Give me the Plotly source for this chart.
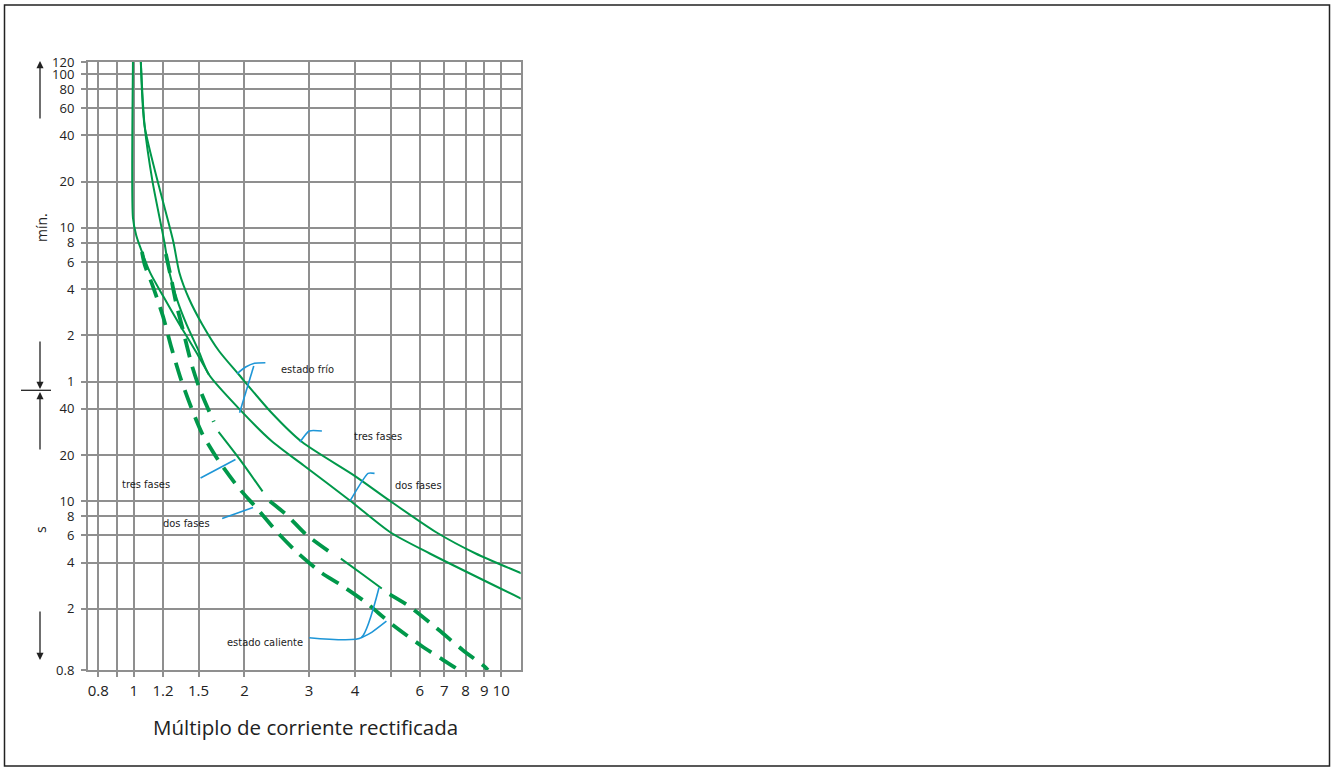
import numpy as np
import plotly.graph_objects as go

# ---------------- data (x = multiple of set current, y = time in seconds) ----------------
x_tick_vals = [0.8, 0.9, 1, 1.2, 1.5, 2, 3, 4, 5, 6, 7, 8, 9, 10]
x_tick_text = ["0.8", "", "1", "1.2", "1.5", "2", "3", "4", "", "6", "7", "8", "9", "10"]
y_tick_vals = [0.8, 2, 4, 6, 8, 10, 20, 40, 60, 120, 240, 360, 480, 600,
               1200, 2400, 3600, 4800, 6000, 7200]
y_tick_text = ["0.8", "2", "4", "6", "8", "10", "20", "40", "1", "2", "4", "6", "8", "10",
               "20", "40", "60", "80", "100", "120"]

# cold state, three phases (outer solid curve)
cold3_x = [1.043, 1.0445, 1.07, 1.28, 1.33, 1.414, 1.534, 1.703, 1.93, 2.37, 2.87, 4.0, 4.97, 6.67, 8.52, 11.5]
cold3_s = [8000, 7200, 2744, 490, 307, 207, 142, 95.4, 66.8, 37.7, 24.3, 14.6, 10.1, 6.27, 4.58, 3.36]
# cold state, two phases (inner solid curve)
cold2_x = [1.043, 1.0445, 1.07, 1.124, 1.21, 1.25, 1.31, 1.39, 1.50, 1.60, 1.97, 2.37, 2.90, 3.88, 5.0, 6.39, 11.5]
cold2_s = [8000, 7200, 2744, 1200, 488, 307, 206, 142, 95.4, 66.8, 38.2, 24.7, 17.1, 10.1, 6.27, 4.58, 2.29]
# thin solid curve starting near 1x
thin_x = [0.994, 0.994, 0.994, 1.015, 1.052, 1.107, 1.20, 1.33, 1.47, 1.60]
thin_s = [8000, 7200, 700, 536, 419, 307, 217, 142, 95.4, 66.8]
# hot state, two phases (dashed, lower)
hot2_x = [1.052, 1.07, 1.126, 1.20, 1.265, 1.344, 1.43, 1.534, 1.70, 1.93, 2.17, 2.46, 2.79,
          3.23, 3.66, 4.24, 5.06, 6.06, 7.50, 7.7]
hot2_s = [419, 346, 251, 160, 100, 61.9, 41.2, 27.6, 18.4, 12.2, 8.92, 6.27, 4.63,
          3.45, 2.86, 2.24, 1.575, 1.15, 0.827, 0.79]
# hot state, three phases (dashed with two thin solid stretches)
hot3a_x = [1.222, 1.265, 1.304, 1.358, 1.44, 1.52, 1.65]
hot3a_s = [406, 277, 193, 132, 75.9, 51.8, 32.9]
hot3b_x = [1.70, 1.94, 2.24]
hot3b_s = [28.3, 18.8, 11.6]
hot3c_x = [2.345, 2.61, 2.94, 3.46]
hot3c_s = [10.0, 8.13, 6.10, 4.58]
hot3d_x = [3.66, 4.18, 4.73]
hot3d_s = [4.24, 3.37, 2.71]
hot3e_x = [4.97, 5.63, 6.78, 7.85, 9.0, 9.2]
hot3e_s = [2.48, 2.07, 1.45, 1.08, 0.844, 0.80]

# leader lines (data units)
lead_cold_arc_x = [1.91, 2.015, 2.13, 2.28]
lead_cold_arc_s = [67.8, 74.7, 79.1, 79.7]
lead_cold_line_x = [2.12, 1.94]
lead_cold_line_s = [75.9, 37.7]
lead_tres_r_x = [2.832, 3.0, 3.25]
lead_tres_r_s = [24.3, 28.7, 28.7]
lead_dos_r_x = [3.88, 4.34, 4.52]
lead_dos_r_s = [10.1, 15.2, 15.2]
lead_tres_l_x = [1.519, 1.89]
lead_tres_l_s = [14.2, 18.7]
lead_dos_l_x = [1.739, 2.11]
lead_dos_l_s = [7.74, 9.12]
lead_hot_h_x = [3.0, 4.16, 4.65]
lead_hot_h_s = [1.298, 1.298, 2.75]
lead_hot_arc_x = [4.16, 4.44, 4.87]
lead_hot_arc_s = [1.298, 1.406, 1.662]

labels = [
    ("estado frío", 2.49, 72.4),
    ("tres fases", 3.92, 26.6),
    ("dos fases", 5.06, 12.76),
    ("tres fases", 0.918, 12.96),
    ("dos fases", 1.188, 7.16),
    ("estado caliente", 1.768, 1.215),
]

# ---------------- styling ----------------
W, H = 1335, 771
GREEN = "#00984a"
BLUE = "#1e96d7"
GRID = "#8f8f8f"
TXT = "#222222"
NARROW = "DejaVu Sans Condensed, Liberation Sans Narrow, sans-serif"
SANS = "Open Sans, Noto Sans, DejaVu Sans, sans-serif"

fig = go.Figure()


def add_line(x, y, width, dash="solid", color=GREEN, smooth=0.7):
    fig.add_trace(go.Scatter(x=x, y=y, mode="lines",
                             line=dict(color=color, width=width, dash=dash, shape="spline", smoothing=smooth),
                             hoverinfo="skip", showlegend=False))


add_line(cold3_x, cold3_s, 2.0)
add_line(cold2_x, cold2_s, 2.0)
add_line(thin_x, thin_s, 2.0)
add_line(hot2_x, hot2_s, 3.8, dash="19px,10px")
add_line(hot3a_x, hot3a_s, 3.8, dash="19px,10px")
add_line(hot3b_x, hot3b_s, 2.0)
add_line(hot3c_x, hot3c_s, 3.8, dash="19px,10px")
add_line(hot3d_x, hot3d_s, 2.0)
add_line(hot3e_x, hot3e_s, 3.8, dash="19px,10px")

for lx, ly in [(lead_cold_arc_x, lead_cold_arc_s), (lead_cold_line_x, lead_cold_line_s),
               (lead_tres_r_x, lead_tres_r_s), (lead_dos_r_x, lead_dos_r_s),
               (lead_tres_l_x, lead_tres_l_s), (lead_dos_l_x, lead_dos_l_s),
               (lead_hot_h_x, lead_hot_h_s), (lead_hot_arc_x, lead_hot_arc_s)]:
    add_line(lx, ly, 1.6, color=BLUE, smooth=0.5)

annotations = []
for text, lx, ly in labels:
    annotations.append(dict(text=text, x=np.log10(lx), y=np.log10(ly), xref="x", yref="y",
                            xanchor="left", yanchor="middle", showarrow=False,
                            font=dict(family=NARROW, size=11, color=TXT)))


def px(xp, yp):
    return xp / W, 1 - yp / H


# axis title and unit labels
tx, ty = px(305, 727)
annotations.append(dict(text="Múltiplo de corriente rectificada", x=tx, y=ty, xref="paper", yref="paper",
                        xanchor="center", yanchor="middle",
                        showarrow=False, font=dict(family=SANS, size=20.5, color=TXT)))
mx, my = px(41, 228)
annotations.append(dict(text="mín.", x=mx, y=my, xref="paper", yref="paper", textangle=-90,
                        xanchor="center", yanchor="middle",
                        showarrow=False, font=dict(family=SANS, size=14, color=TXT)))
sx, sy = px(40, 530)
annotations.append(dict(text="s", x=sx, y=sy, xref="paper", yref="paper", textangle=-90,
                        xanchor="center", yanchor="middle",
                        showarrow=False, font=dict(family=SANS, size=14, color=TXT)))

# arrows on the left
for tip, off in [((40, 61), 59), ((40, 389), -49), ((40, 392), 59), ((40, 660), -50)]:
    ax_, ay_ = px(*tip)
    annotations.append(dict(text="", x=ax_, y=ay_, xref="paper", yref="paper", showarrow=True,
                            ax=0, ay=off, arrowhead=2, arrowsize=1.1, arrowwidth=1.3,
                            arrowcolor=TXT, standoff=0))

hx0, hy = px(21, 390.3)
hx1, _ = px(51, 390.3)
fx0, fy0 = px(4.5, 766)
fx1, fy1 = px(1329.5, 5)
shapes = [
    dict(type="line", xref="paper", yref="paper", x0=hx0, x1=hx1, y0=hy, y1=hy,
         line=dict(color=TXT, width=1.3)),
    dict(type="rect", xref="paper", yref="paper", x0=fx0, x1=fx1, y0=fy0, y1=fy1,
         line=dict(color=TXT, width=1.5)),
]

axis_common = dict(type="log", showgrid=True, gridcolor=GRID, gridwidth=1.6,
                   ticks="outside", ticklen=5, tickcolor=GRID, tickwidth=1.6,
                   showline=True, linecolor=GRID, linewidth=2, mirror=True, zeroline=False,
                   automargin=False)

fig.update_layout(
    width=W, height=H, autosize=False,
    margin=dict(l=0, r=0, t=0, b=0, pad=0, autoexpand=False),
    paper_bgcolor="white", plot_bgcolor="white",
    showlegend=False,
    xaxis=dict(range=[np.log10(0.75), np.log10(11.3)], domain=[88 / W, 520.7 / W],
               tickvals=x_tick_vals, ticktext=x_tick_text, ticklabelstandoff=1,
               tickfont=dict(family=SANS, size=15, color=TXT), **axis_common),
    yaxis=dict(range=[np.log10(0.8), np.log10(7200)], domain=[1 - 670 / H, 1 - 62 / H],
               tickvals=y_tick_vals, ticktext=y_tick_text, ticklabelstandoff=4,
               tickfont=dict(family=SANS, size=13, color=TXT), **axis_common),
    annotations=annotations,
    shapes=shapes,
)

fig.write_html("out.html", config={"displayModeBar": False},
               post_script="document.body.style.margin='0';document.body.style.overflow='hidden';")
